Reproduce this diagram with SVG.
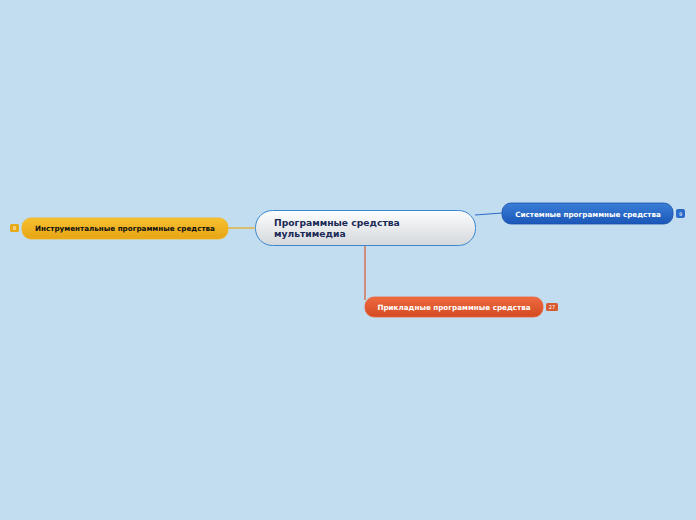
<svg xmlns="http://www.w3.org/2000/svg" width="696" height="520" viewBox="0 0 696 520">
<defs>
<linearGradient id="gc" x1="0" y1="0" x2="0" y2="1"><stop offset="0" stop-color="#fdfdfd"/><stop offset="1" stop-color="#d4d8dc"/></linearGradient>
<linearGradient id="gb" x1="0" y1="0" x2="0" y2="1"><stop offset="0" stop-color="#3a7fd8"/><stop offset="1" stop-color="#1a56b8"/></linearGradient>
<linearGradient id="gy" x1="0" y1="0" x2="0" y2="1"><stop offset="0" stop-color="#f8c030"/><stop offset="1" stop-color="#e6a514"/></linearGradient>
<linearGradient id="gr" x1="0" y1="0" x2="0" y2="1"><stop offset="0" stop-color="#ee6a40"/><stop offset="1" stop-color="#d44a22"/></linearGradient>
</defs>
<style>
text{font-family:"DejaVu Sans","Liberation Sans",sans-serif;font-weight:bold}
.t{font-size:7.2px;text-anchor:middle}
.b{font-size:5px;text-anchor:middle;fill:#fff;font-weight:normal}
</style>
<rect width="696" height="520" fill="#c3ddf0"/>
<g id="connectors" fill="none" stroke-width="1.2">
<path d="M475 215 L502 213" stroke="#2a6ac8"/>
<path d="M228 228 L255 228" stroke="#e8aa18"/>
<path d="M365 245 L365 300" stroke="#d85a30"/>
</g>
<g id="center">
<rect x="255.5" y="210.5" width="220" height="35" rx="17" fill="url(#gc)" stroke="#3a88d0" stroke-width="1"/>
<text x="274" y="226" font-size="9.2" fill="#1a2a55">Программные средства</text>
<text x="274" y="237" font-size="9.2" fill="#1a2a55">мультимедиа</text>
</g>
<g id="sys">
<rect x="502" y="203" width="171" height="21" rx="9" fill="url(#gb)" stroke="#1a4ea8" stroke-width="0.8"/>
<text class="t" x="588" y="217" fill="#fff">Системные программные средства</text>
<rect x="676" y="209" width="9" height="9" rx="2" fill="#2a6ac8"/>
<text class="b" x="680.5" y="215.5">9</text>
</g>
<g id="instr">
<rect x="22" y="218" width="206" height="21" rx="9" fill="url(#gy)" stroke="#f2b420" stroke-width="0.8"/>
<text class="t" x="125" y="231" fill="#111">Инструментальные программные средства</text>
<rect x="10" y="224" width="9" height="8" rx="1.5" fill="#e8aa18"/>
<text class="b" x="14.5" y="229.8" fill="#333">8</text>
</g>
<g id="appl">
<rect x="365" y="297" width="178" height="20" rx="9" fill="url(#gr)" stroke="#e86238" stroke-width="0.8"/>
<text class="t" x="454" y="310" fill="#fff">Прикладные программные средства</text>
<rect x="546" y="303" width="12" height="8" rx="1.5" fill="#d85a30"/>
<text class="b" x="552" y="309">27</text>
</g>
</svg>
